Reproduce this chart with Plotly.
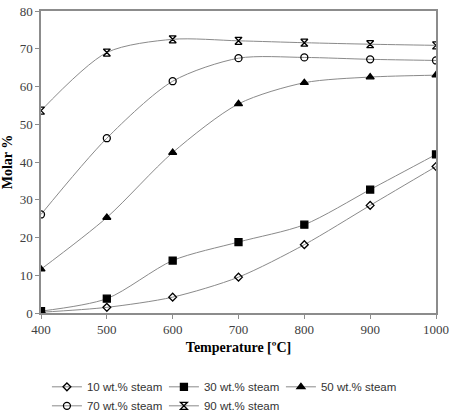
import plotly.graph_objects as go

temps = [400, 500, 600, 700, 800, 900, 1000]
s10 = [0.2, 1.5, 4.2, 9.5, 18.1, 28.5, 38.8]
s30 = [0.5, 3.8, 13.9, 18.8, 23.4, 32.7, 42.0]
s50 = [11.6, 25.3, 42.5, 55.4, 61.0, 62.5, 63.0]
s70 = [26.1, 46.3, 61.4, 67.5, 67.7, 67.2, 66.9]
s90 = [53.6, 69.0, 72.5, 72.1, 71.6, 71.2, 70.9]
names = ["10 wt.% steam", "30 wt.% steam", "50 wt.% steam", "70 wt.% steam", "90 wt.% steam"]
series = [s10, s30, s50, s70, s90]
symbols = ["diamond-open", "square", "triangle-up", "circle-open", "hourglass-open"]
sizes = [6, 7, 7, 7, 7]

fig = go.Figure()
for nm, ys, sym, sz in zip(names, series, symbols, sizes):
    fig.add_trace(go.Scatter(
        x=temps, y=ys, name=nm, mode="lines+markers",
        line=dict(color="#8a8a8a", width=1, shape="spline", smoothing=0.8),
        marker=dict(symbol=sym, size=sz, color="black",
                    line=dict(color="black", width=1.3)),
    ))

serif = "Liberation Serif, Times New Roman, serif"
axis_common = dict(showline=True, linecolor="#8c8c8c", linewidth=1.5, mirror=True,
                   showgrid=False, zeroline=False, ticks="outside", ticklen=4,
                   tickcolor="#8c8c8c", automargin=False,
                   tickfont=dict(family=serif, size=13, color="#404040"))
fig.update_xaxes(range=[400, 1000], dtick=100, **axis_common,
                 title=dict(text="<b>Temperature [ºC]</b>",
                            font=dict(family=serif, size=14, color="black"),
                            standoff=6))
fig.update_yaxes(range=[0, 80], dtick=10, **axis_common,
                 title=dict(text="<b>Molar %</b>",
                            font=dict(family=serif, size=14, color="black"),
                            standoff=6))
fig.update_layout(
    width=453, height=416, plot_bgcolor="white", paper_bgcolor="white",
    margin=dict(l=41, r=17, t=11, b=103, autoexpand=False),
    legend=dict(orientation="h", x=0.015, xanchor="left",
                yref="container", y=0.105, yanchor="top",
                font=dict(family="Liberation Sans, Arial", size=11.5, color="#333333"),
                entrywidth=72, tracegroupgap=0, itemwidth=30),
)
fig.write_html("out.html")
